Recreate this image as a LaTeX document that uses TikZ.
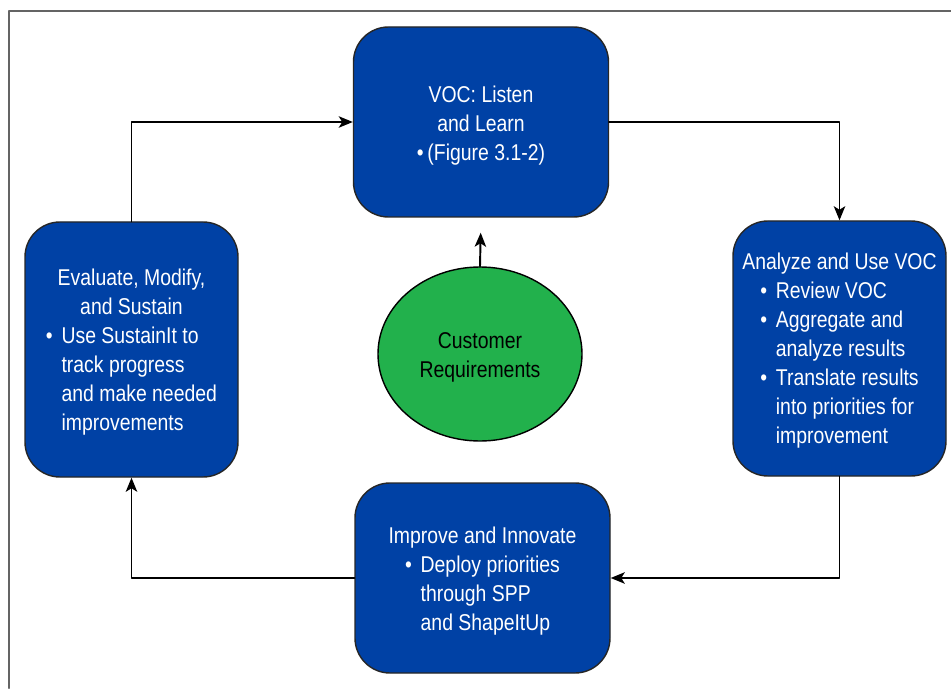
\documentclass[tikz,border=0pt]{standalone}
\usepackage{fontspec}
\setmainfont[FakeStretch=0.85]{Liberation Sans}
\usetikzlibrary{shapes.geometric,arrows.meta}
\definecolor{vocblue}{RGB}{0,65,165}
\definecolor{reqgreen}{RGB}{34,177,76}
\definecolor{framegray}{RGB}{100,100,100}
\newcommand\topgap[1]{\rule{0pt}{#1}}
\begin{document}
\begin{tikzpicture}[>={Stealth[length=8pt,width=6.5pt,inset=2pt]},line join=round,line cap=round,font=\fontsize{13}{16.5}\selectfont,
	stage/.style={draw=black!85,line width=0.8pt,fill=vocblue,text=white,rounded corners=0.7cm,align=center,inner sep=0pt},
	wide/.style={stage,minimum width=5.1cm,minimum height=3.8cm},
	tall/.style={stage,minimum width=4.26cm,minimum height=5.1cm},
	link/.style={->,line width=1.1pt}]
	\useasboundingbox (0,0) rectangle (19.02,13.76);
	\draw[framegray,line width=1.2pt] (0.18,0)--(0.18,13.54)--(19.02,13.54);
	\node[wide] (voc) at (9.62,11.32) {\topgap{13.5pt}VOC: Listen\\and Learn\\\textbullet\,(Figure 3.1-2)};
	\node[tall] (ana) at (16.79,6.79) {\topgap{14.5pt}Analyze and Use VOC\\
		\begin{tabular}[t]{@{}l@{\hspace{5pt}}l@{}}
		\textbullet&Review VOC\\
		\textbullet&Aggregate and\\
		&analyze results\\
		\textbullet&Translate results\\
		&into priorities for\\
		&improvement
		\end{tabular}};
	\node[wide] (imp) at (9.65,2.2) {\topgap{15.5pt}Improve and Innovate\\
		\begin{tabular}[t]{@{}l@{\hspace{5pt}}l@{}}
		\textbullet&Deploy priorities\\
		&through SPP\\
		&and ShapeItUp
		\end{tabular}};
	\node[tall] (ev) at (2.63,6.77) {\topgap{14.5pt}Evaluate, Modify,\\and Sustain\\
		\begin{tabular}[t]{@{}l@{\hspace{5pt}}l@{}}
		\textbullet&Use SustainIt to\\
		&track progress\\
		&and make needed\\
		&improvements
		\end{tabular}};
	\node[ellipse,draw=black,line width=0.8pt,fill=reqgreen,minimum width=4.08cm,minimum height=3.48cm,align=center,inner sep=0pt] (req) at (9.6,6.68) {\topgap{12.5pt}Customer\\Requirements};
	\draw[link] (ev.north) |- (voc.west);
	\draw[link] (voc.east) -| (ana.north);
	\draw[link] (ana.south) |- (imp.east);
	\draw[link] (imp.west) -| (ev.south);
	\draw[link,shorten >=0.3cm] (req.north)--(voc.south);
\end{tikzpicture}
\end{document}
